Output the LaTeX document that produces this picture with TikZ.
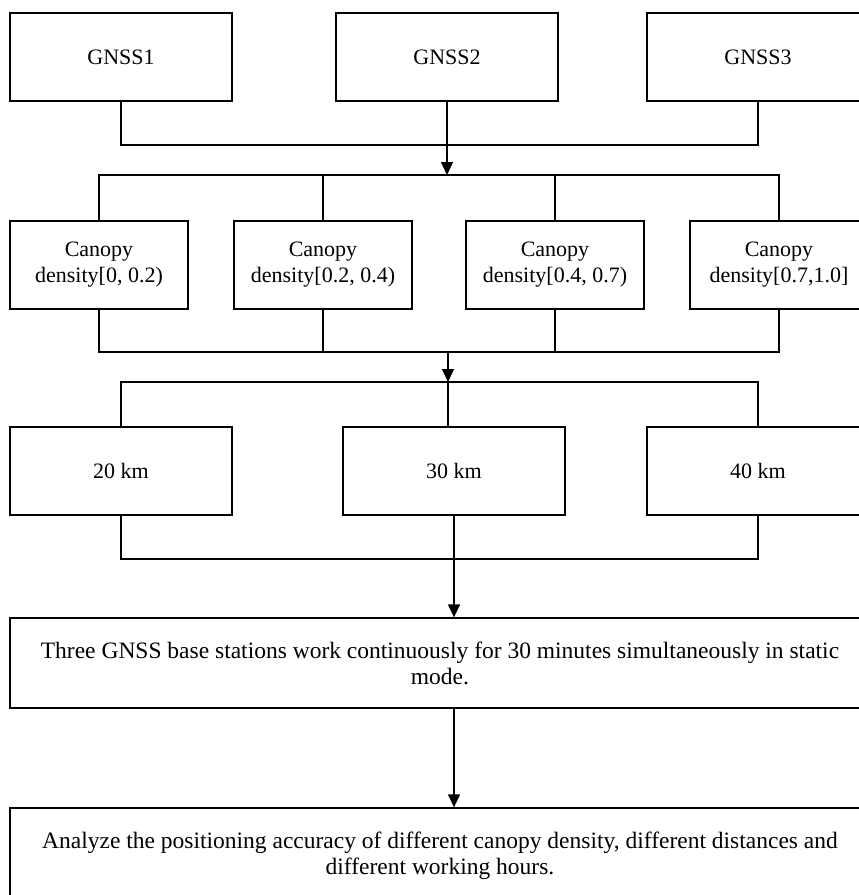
\documentclass[tikz,border=0pt]{standalone}
\usepackage{fontspec}
\setmainfont{Liberation Serif}
\usetikzlibrary{arrows.meta,positioning}
\tikzset{
  box/.style={draw,line width=1.3pt,minimum width=222pt,minimum height=88pt,
    align=center,inner sep=2pt,font=\fontsize{22}{26}\selectfont},
  canopybox/.style={box,minimum width=178pt},
  widebox/.style={box,minimum width=860pt,minimum height=90pt,
    font=\fontsize{23.5}{26}\selectfont},
  link/.style={line width=1.3pt},
  flow/.style={line width=1.3pt,-{Triangle[length=13pt,width=12pt]}}
}

\begin{document}
\begin{tikzpicture}[x=1pt,y=-1pt]
\useasboundingbox (0,0) rectangle (859,895);
\clip (0,0) rectangle (859,895);
% receivers
\node[box] (g1) at (121,57) {GNSS1};
\node[box] (g2) at (447,57) {GNSS2};
\node[box] (g3) at (758,57) {GNSS3};
% canopy density classes
\node[canopybox] (c1) at (99,265) {Canopy\\density[0, 0.2)};
\node[canopybox] (c2) at (323,265) {Canopy\\density[0.2, 0.4)};
\node[canopybox] (c3) at (555,265) {Canopy\\density[0.4, 0.7)};
\node[canopybox] (c4) at (779,265) {Canopy\\density[0.7,1.0]};
% distances
\node[box] (k1) at (121,471) {20 km};
\node[box] (k2) at (454,471) {30 km};
\node[box] (k3) at (758,471) {40 km};
% observation and analysis
\node[widebox] (obs) at (440,663) {Three GNSS base stations work continuously for 30 minutes simultaneously in static\\mode.};
\node[widebox,minimum height=96pt] (ana) at (440,856) {Analyze the positioning accuracy of different canopy density, different distances and\\different working hours.};

\coordinate (j1) at (447,145);
\coordinate (s1) at (447,175);
\coordinate (j2) at (448,352);
\coordinate (s2) at (448,382);
\coordinate (j3) at (454,559);

\draw[link] (g1.south) |- (j1) -| (g3.south);
\draw[flow] (g2.south) -- (s1);
\draw[link] (c1.north) |- (s1) -| (c4.north);
\draw[link] (c2.north) -- (c2.north |- s1);
\draw[link] (c3.north) -- (c3.north |- s1);

\draw[link] (c1.south) |- (j2) -| (c4.south);
\draw[link] (c2.south) -- (c2.south |- j2);
\draw[link] (c3.south) -- (c3.south |- j2);
\draw[flow] (j2) -- (s2);
\draw[link] (k1.north) |- (s2) -| (k3.north);
\draw[link] (s2) -- (s2 |- k2.north);

\draw[link] (k1.south) |- (j3) -| (k3.south);
\draw[flow] (k2.south) -- (obs.north -| k2.south);
\draw[flow] (obs.south -| k2.south) -- (ana.north -| k2.south);
\end{tikzpicture}
\end{document}
